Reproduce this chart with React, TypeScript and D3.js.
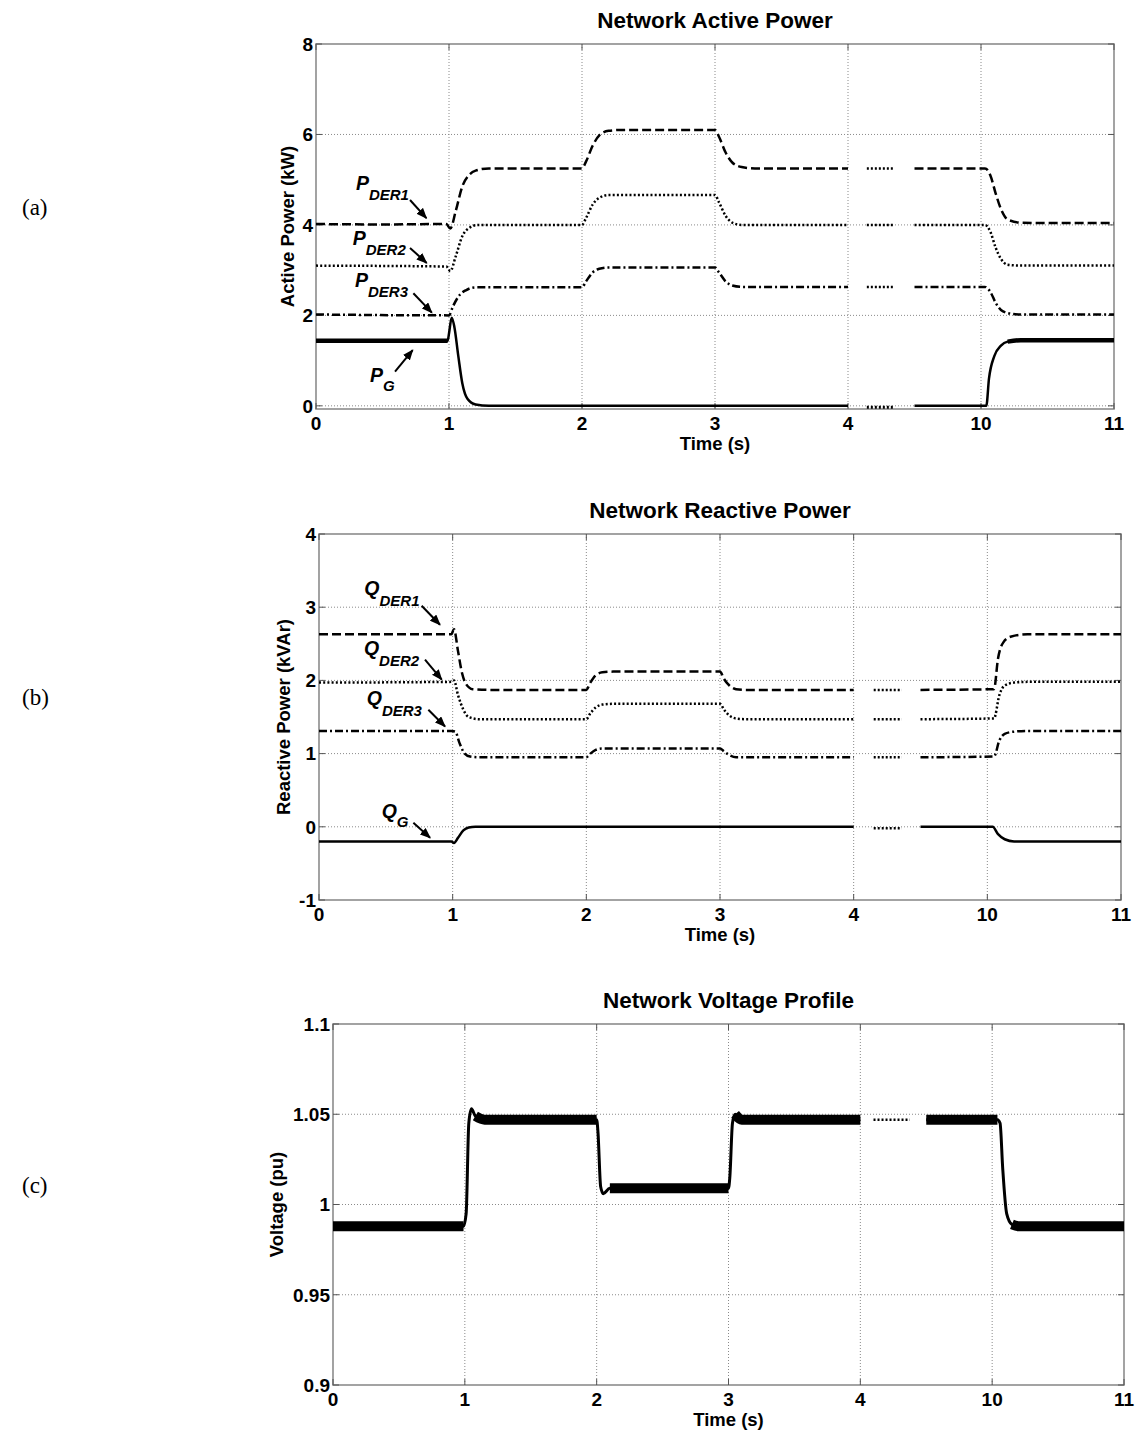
import React, { useRef, useEffect } from 'react';
import * as d3 from 'd3';

type Pt = [number, number];

// broken time axis: 4 -> 10 squeezed into one tick step
const timeTicks = [0, 1, 2, 3, 4, 10, 11];

// (a) active power, kW
const pDer1: Pt[] = [[0, 4.02], [0.5, 4.01], [0.98, 4.02], [1.01, 3.92], [1.05, 4.3], [1.1, 4.85], [1.15, 5.1], [1.2, 5.2], [1.3, 5.25], [2, 5.25], [2.03, 5.4], [2.08, 5.75], [2.13, 5.98], [2.2, 6.08], [2.3, 6.1], [3, 6.1], [3.03, 5.95], [3.08, 5.6], [3.13, 5.38], [3.2, 5.28], [3.3, 5.25], [4, 5.25], [7, 5.25], [10.03, 5.25], [10.07, 5.1], [10.11, 4.7], [10.15, 4.35], [10.2, 4.12], [10.3, 4.05], [10.5, 4.04], [11, 4.04]];
const pDer2: Pt[] = [[0, 3.1], [0.98, 3.08], [1.01, 2.98], [1.05, 3.3], [1.1, 3.75], [1.15, 3.93], [1.22, 4.0], [2, 4.0], [2.03, 4.15], [2.08, 4.45], [2.13, 4.6], [2.2, 4.66], [3, 4.66], [3.03, 4.5], [3.08, 4.2], [3.13, 4.05], [3.2, 4.0], [4, 4.0], [7, 4.0], [10.03, 4.0], [10.07, 3.85], [10.11, 3.5], [10.15, 3.25], [10.2, 3.12], [10.3, 3.1], [11, 3.1]];
const pDer3: Pt[] = [[0, 2.02], [1, 2.0], [1.03, 2.2], [1.08, 2.45], [1.13, 2.56], [1.2, 2.62], [2, 2.62], [2.03, 2.75], [2.08, 2.95], [2.13, 3.03], [2.2, 3.06], [3, 3.06], [3.03, 2.95], [3.08, 2.75], [3.13, 2.66], [3.2, 2.63], [4, 2.63], [7, 2.63], [10.03, 2.63], [10.07, 2.52], [10.11, 2.28], [10.15, 2.12], [10.22, 2.04], [10.3, 2.02], [11, 2.02]];
const pG: Pt[] = [[0, 1.44], [0.99, 1.44], [1.0, 1.6], [1.02, 1.95], [1.04, 1.75], [1.07, 1.1], [1.1, 0.5], [1.14, 0.15], [1.2, 0.03], [1.3, 0], [4, 0], [7, 0], [10.04, 0], [10.06, 0.6], [10.1, 1.1], [10.15, 1.33], [10.2, 1.42], [10.3, 1.45], [11, 1.45]];
// windows where the grid power ripples (thicker trace)
const pGRipple: Pt[] = [[0, 0.99], [10.18, 11]];

// (b) reactive power, kVAr
const qDer1: Pt[] = [[0, 2.63], [0.99, 2.63], [1.01, 2.7], [1.04, 2.4], [1.07, 2.1], [1.1, 1.95], [1.15, 1.88], [1.3, 1.87], [2, 1.87], [2.03, 1.97], [2.07, 2.07], [2.12, 2.11], [2.2, 2.12], [3, 2.12], [3.03, 2.02], [3.07, 1.93], [3.12, 1.88], [3.2, 1.87], [4, 1.87], [7, 1.87], [10.05, 1.88], [10.08, 2.3], [10.12, 2.52], [10.18, 2.6], [10.3, 2.63], [11, 2.63]];
const qDer2: Pt[] = [[0, 1.97], [0.99, 1.98], [1.01, 2.0], [1.04, 1.8], [1.08, 1.6], [1.12, 1.5], [1.2, 1.47], [2, 1.47], [2.03, 1.55], [2.07, 1.63], [2.12, 1.67], [2.2, 1.68], [3, 1.68], [3.03, 1.6], [3.07, 1.52], [3.12, 1.48], [3.2, 1.47], [4, 1.47], [7, 1.47], [10.05, 1.48], [10.09, 1.8], [10.13, 1.93], [10.2, 1.97], [10.3, 1.98], [11, 1.98]];
const qDer3: Pt[] = [[0, 1.31], [0.99, 1.31], [1.02, 1.3], [1.05, 1.15], [1.09, 1.0], [1.13, 0.96], [1.2, 0.95], [2, 0.95], [2.03, 1.0], [2.07, 1.05], [2.12, 1.07], [3, 1.07], [3.03, 1.03], [3.07, 0.98], [3.12, 0.95], [3.2, 0.95], [4, 0.95], [7, 0.95], [10.05, 0.96], [10.09, 1.18], [10.13, 1.27], [10.2, 1.3], [10.3, 1.31], [11, 1.31]];
const qG: Pt[] = [[0, -0.2], [0.99, -0.2], [1.01, -0.22], [1.04, -0.15], [1.08, -0.05], [1.12, -0.01], [1.17, 0], [4, 0], [7, 0], [10.04, 0], [10.08, -0.1], [10.13, -0.17], [10.2, -0.2], [11, -0.2]];

// (c) voltage, pu
const voltage: Pt[] = [[0, 0.988], [0.99, 0.988], [1.01, 0.995], [1.03, 1.045], [1.05, 1.053], [1.08, 1.049], [1.15, 1.047], [2, 1.047], [2.01, 1.04], [2.03, 1.01], [2.05, 1.006], [2.1, 1.009], [3, 1.009], [3.01, 1.015], [3.03, 1.045], [3.05, 1.05], [3.1, 1.047], [4, 1.047], [7, 1.047], [10.04, 1.047], [10.06, 1.045], [10.08, 1.02], [10.11, 0.995], [10.15, 0.989], [10.2, 0.988], [11, 0.988]];
// windows where the voltage ripples (thick band)
const voltageRipple: Pt[] = [[0, 0.995], [1.06, 2.0], [2.06, 3.0], [3.05, 4], [7, 10.04], [10.15, 11]];

const activeTicks = [0, 2, 4, 6, 8];
const reactiveTicks = [-1, 0, 1, 2, 3, 4];
const voltageTicks = [0.9, 0.95, 1, 1.05, 1.1];

const FONT = 'Liberation Sans, Arial, Helvetica, sans-serif';

const DASH = '9,4';
const DOT = '2,2.2';
const DASHDOT = '8,3,2,3';

// labels: [t, v] of label, arrow from, arrow to
const activeNotes = [
  { main: 'P', sub: 'DER1', at: [0.3, 4.77], from: [0.707, 4.55], to: [0.83, 4.15], dy: 10 },
  { main: 'P', sub: 'DER2', at: [0.276, 3.555], from: [0.707, 3.49], to: [0.832, 3.16], dy: 10 },
  { main: 'P', sub: 'DER3', at: [0.293, 2.63], from: [0.732, 2.49], to: [0.871, 2.06], dy: 10 },
  { main: 'P', sub: 'G', at: [0.406, 0.533], from: [0.594, 0.754], to: [0.727, 1.234], dy: 9 },
];
const reactiveNotes = [
  { main: 'Q', sub: 'DER1', at: [0.339, 3.17], from: [0.768, 3.02], to: [0.905, 2.76], dy: 11 },
  { main: 'Q', sub: 'DER2', at: [0.336, 2.35], from: [0.793, 2.285], to: [0.918, 2.01], dy: 11 },
  { main: 'Q', sub: 'DER3', at: [0.357, 1.67], from: [0.818, 1.6], to: [0.943, 1.37], dy: 11 },
  { main: 'Q', sub: 'G', at: [0.469, 0.123], from: [0.706, 0.055], to: [0.831, -0.15], dy: 9 },
];

function drawPanel(svg: any, cfg: any) {
  const { left, top, right, bottom } = cfg;
  const step = (right - left) / (timeTicks.length - 1);
  const x = d3.scaleLinear().domain(timeTicks).range(timeTicks.map((_, i) => left + i * step));
  const y = d3.scaleLinear().domain(cfg.yDomain).range([bottom, top]);
  const g = svg.append('g');

  // grid
  g.selectAll('.vg').data(timeTicks.slice(1, -1)).join('line')
    .attr('x1', (d: number) => x(d)).attr('x2', (d: number) => x(d))
    .attr('y1', top).attr('y2', bottom)
    .attr('stroke', '#8a8a8a').attr('stroke-width', 1).attr('stroke-dasharray', '1,2');
  g.selectAll('.hg').data(cfg.yTicks.filter((v: number) => v !== cfg.yDomain[1] && v !== cfg.yDomain[0] || v === 0))
    .join('line')
    .attr('x1', left).attr('x2', right)
    .attr('y1', (d: number) => y(d)).attr('y2', (d: number) => y(d))
    .attr('stroke', '#8a8a8a').attr('stroke-width', 1).attr('stroke-dasharray', '1,2');

  // box and inner ticks
  g.append('rect').attr('x', left).attr('y', top).attr('width', right - left).attr('height', bottom - top)
    .attr('fill', 'none').attr('stroke', '#8c8c8c').attr('stroke-width', 1.6);
  timeTicks.forEach((t) => {
    g.append('line').attr('x1', x(t)).attr('x2', x(t)).attr('y1', bottom).attr('y2', bottom - 6).attr('stroke', '#555');
    g.append('line').attr('x1', x(t)).attr('x2', x(t)).attr('y1', top).attr('y2', top + 6).attr('stroke', '#555');
  });
  cfg.yTicks.forEach((v: number) => {
    g.append('line').attr('x1', left).attr('x2', left + 6).attr('y1', y(v)).attr('y2', y(v)).attr('stroke', '#555');
    g.append('line').attr('x1', right).attr('x2', right - 6).attr('y1', y(v)).attr('y2', y(v)).attr('stroke', '#555');
  });

  // tick labels
  g.selectAll('.xt').data(timeTicks).join('text')
    .attr('x', (d: number) => x(d)).attr('y', bottom + 21)
    .attr('text-anchor', 'middle').attr('font-family', FONT).attr('font-weight', 'bold').attr('font-size', 19)
    .text((d: number) => String(d));
  g.selectAll('.yt').data(cfg.yTicks).join('text')
    .attr('x', left - 3).attr('y', (d: number) => y(d)).attr('dy', '0.36em')
    .attr('text-anchor', 'end').attr('font-family', FONT).attr('font-weight', 'bold').attr('font-size', 19)
    .text((d: number) => String(d));

  // titles
  g.append('text').attr('x', (left + right) / 2).attr('y', top - 16).attr('text-anchor', 'middle')
    .attr('font-family', FONT).attr('font-weight', 'bold').attr('font-size', 22.5).text(cfg.title);
  g.append('text').attr('x', (left + right) / 2).attr('y', bottom + 41).attr('text-anchor', 'middle')
    .attr('font-family', FONT).attr('font-weight', 'bold').attr('font-size', 18.5).text('Time (s)');
  g.append('text').attr('transform', `translate(${cfg.yLabelX},${(top + bottom) / 2}) rotate(-90)`)
    .attr('text-anchor', 'middle').attr('dy', '0.35em')
    .attr('font-family', FONT).attr('font-weight', 'bold').attr('font-size', 18.5).text(cfg.yLabel);
  g.append('text').attr('x', 22).attr('y', (top + bottom) / 2 - 20).attr('dy', '0.35em')
    .attr('font-family', 'Liberation Serif, Times New Roman, serif').attr('font-size', 23).text(cfg.panel);

  const line = d3.line<Pt>().x((d) => x(d[0])).y((d) => y(d[1])).curve(d3.curveMonotoneX);

  cfg.series.forEach((s: any) => {
    const pre = s.data.filter((d: Pt) => d[0] <= 4);
    const post = s.data.filter((d: Pt) => d[0] >= 7);
    [pre, post].forEach((part: Pt[]) => {
      g.append('path').attr('d', line(part)).attr('fill', 'none').attr('stroke', '#000')
        .attr('stroke-width', s.width || 2.5).attr('stroke-dasharray', s.dash || null)
        .attr('stroke-linejoin', 'round');
    });
    if (s.ripple) {
      s.ripple.forEach((w: Pt) => {
        const seg = s.data.filter((d: Pt) => d[0] >= w[0] && d[0] <= w[1]);
        if (seg.length > 1) {
          g.append('path').attr('d', line(seg)).attr('fill', 'none').attr('stroke', '#000')
            .attr('stroke-width', s.rippleWidth);
        }
      });
    }
    // dotted stub inside the axis break
    const lvl = pre[pre.length - 1][1];
    g.append('line').attr('x1', x(cfg.gap[0])).attr('x2', x(cfg.gap[1]))
      .attr('y1', y(lvl) + (s.gapShift || 0)).attr('y2', y(lvl) + (s.gapShift || 0))
      .attr('stroke', '#000').attr('stroke-width', s.gapWidth || 2.5).attr('stroke-dasharray', '2,2');
  });

  // annotations
  (cfg.notes || []).forEach((n: any) => {
    const t = g.append('text').attr('x', x(n.at[0])).attr('y', y(n.at[1]))
      .attr('font-family', FONT).attr('font-weight', 'bold').attr('font-style', 'italic');
    t.append('tspan').attr('font-size', 19.5).text(n.main);
    t.append('tspan').attr('font-size', 15).attr('dy', n.dy).text(n.sub);
    g.append('line').attr('x1', x(n.from[0])).attr('y1', y(n.from[1]))
      .attr('x2', x(n.to[0])).attr('y2', y(n.to[1]))
      .attr('stroke', '#000').attr('stroke-width', 2).attr('marker-end', 'url(#arrowHead)');
  });
}

export default function App() {
  const svgRef = useRef<SVGSVGElement>(null);

  useEffect(() => {
    const svg = d3.select(svgRef.current);
    svg.selectAll('*').remove();

    svg.append('defs').append('marker')
      .attr('id', 'arrowHead').attr('markerUnits', 'userSpaceOnUse')
      .attr('viewBox', '0 0 10 8').attr('refX', 9).attr('refY', 4)
      .attr('markerWidth', 11).attr('markerHeight', 9).attr('orient', 'auto')
      .append('path').attr('d', 'M0,0 L10,4 L0,8 Z').attr('fill', '#000');

    drawPanel(svg, {
      left: 316, top: 44, right: 1114, bottom: 409,
      yDomain: [-0.07, 8], yTicks: activeTicks,
      title: 'Network Active Power', yLabel: 'Active Power (kW)', yLabelX: 288, panel: '(a)',
      gap: [4.85, 6.05],
      series: [
        { data: pDer1, dash: DASH },
        { data: pDer2, dash: DOT },
        { data: pDer3, dash: DASHDOT },
        { data: pG, gapShift: 1.5, gapWidth: 3, ripple: pGRipple, rippleWidth: 4.5 },
      ],
      notes: activeNotes,
    });

    drawPanel(svg, {
      left: 319, top: 534, right: 1121, bottom: 900,
      yDomain: [-1, 4], yTicks: reactiveTicks,
      title: 'Network Reactive Power', yLabel: 'Reactive Power (kVAr)', yLabelX: 284, panel: '(b)',
      gap: [4.9, 6.16],
      series: [
        { data: qDer1, dash: DASH },
        { data: qDer2, dash: DOT },
        { data: qDer3, dash: DASHDOT },
        { data: qG, gapShift: 1.5 },
      ],
      notes: reactiveNotes,
    });

    drawPanel(svg, {
      left: 333, top: 1024, right: 1124, bottom: 1385,
      yDomain: [0.9, 1.1], yTicks: voltageTicks,
      title: 'Network Voltage Profile', yLabel: 'Voltage (pu)', yLabelX: 277, panel: '(c)',
      gap: [4.6, 6.25],
      series: [
        { data: voltage, width: 3, ripple: voltageRipple, rippleWidth: 10 },
      ],
    });
  }, []);

  return (
    <svg ref={svgRef} width={1138} height={1433}
      style={{ position: 'absolute', left: 0, top: 0, background: '#fff' }} />
  );
}
